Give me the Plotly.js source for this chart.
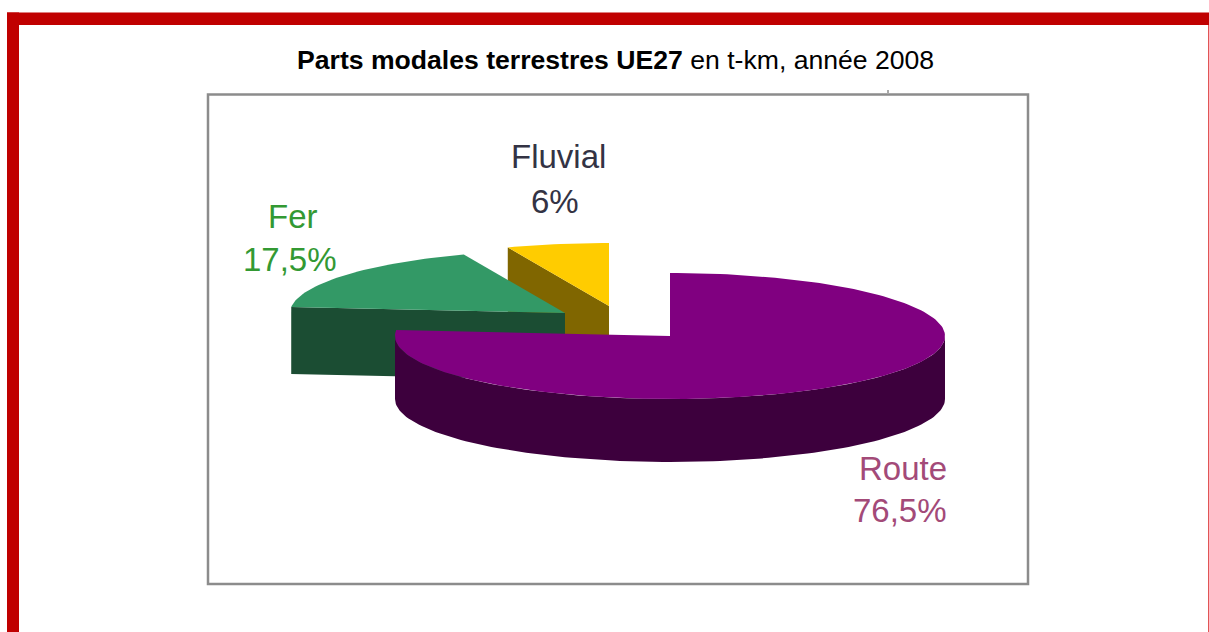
<!DOCTYPE html>
<html>
<head>
<meta charset="utf-8">
<script src="https://cdn.plot.ly/plotly-3.0.1.min.js"></script>
<style>html,body{margin:0;padding:0;background:#fff;overflow:hidden}#chart{width:1209px;height:632px}</style>
</head>
<body>
<div id="chart"></div>
<script>
// Data
const categories = ['Route', 'Fer', 'Fluvial'];
const shares = [76.5, 17.5, 6];

// Styles
const topColors = ['#800080', '#339966', '#ffcc00'];
const sideColors = ['#3d003d', '#1b4d33', '#806600'];
const labelColors = ['#a34a78', '#339933', '#333344'];

// Pie geometry (pixel-based axes)
const RX = 275, RY = 63;
const depths = [63, 67, 64];
const apexes = [[670, 336], [565, 313], [609, 306]];
const labelAnchors = [[903, 468, 900, 510], [293, 216, 290, 259], [558, 156, 555, 201]];

function pt(apex, deg, drop) {
  const a = deg * Math.PI / 180;
  return [apex[0] + RX * Math.sin(a), apex[1] - RY * Math.cos(a) + (drop || 0)];
}
function arc(apex, from, to, drop) {
  const out = [], n = Math.max(2, Math.ceil(Math.abs(to - from) / 1.5));
  for (let i = 0; i <= n; i++) out.push(pt(apex, from + (to - from) * i / n, drop));
  return out;
}
function poly(points, color, name) {
  return {
    type: 'scatter', mode: 'lines', fill: 'toself', fillcolor: color,
    x: points.map(p => p[0]), y: points.map(p => p[1]),
    line: {width: 0, color: color}, name: name, hoverinfo: 'name', showlegend: false
  };
}

const total = shares.reduce((a, b) => a + b, 0);
let cursor = 0;
const slices = shares.map((v, i) => {
  const s = {i: i, start: cursor, end: cursor + v / total * 360};
  cursor = s.end;
  return s;
});

const traces = [];
slices.slice().reverse().forEach(s => {
  const ap = apexes[s.i], name = categories[s.i], d = depths[s.i];
  // cut face on the slice's starting radius
  const p0 = pt(ap, s.start);
  if (s.start > 0) {
    traces.push(poly([p0, ap, [ap[0], ap[1] + d], [p0[0], p0[1] + d], p0], sideColors[s.i], name));
  }
  // outer wall on the front half of the rim
  const w0 = Math.max(s.start, 90), w1 = Math.min(s.end, 270);
  if (w1 > w0) {
    traces.push(poly(arc(ap, w0, w1).concat(arc(ap, w1, w0, d)), sideColors[s.i], name));
  }
  // top face
  traces.push(poly([ap].concat(arc(ap, s.start, s.end), [ap]), topColors[s.i], name));
});

const annotations = [];
categories.forEach((c, i) => {
  const a = labelAnchors[i];
  [[c, a[0], a[1]], [String(shares[i]).replace('.', ',') + '%', a[2], a[3]]].forEach(t => {
    annotations.push({
      xref: 'x', yref: 'y', x: t[1], y: t[2], text: t[0], showarrow: false,
      xanchor: 'center', yanchor: 'middle',
      font: {family: 'Liberation Sans, Arial, sans-serif', size: 33, color: labelColors[i]}
    });
  });
});
annotations.push({
  xref: 'x', yref: 'y', x: 615, y: 60, showarrow: false, xanchor: 'center', yanchor: 'middle',
  text: '<b>Parts modales terrestres UE27</b> en t-km, année 2008',
  font: {family: 'Liberation Sans, Arial, sans-serif', size: 26.6, color: '#000000'}
});

const layout = {
  width: 1209, height: 632,
  margin: {l: 0, r: 0, t: 0, b: 0, pad: 0},
  paper_bgcolor: '#ffffff', plot_bgcolor: '#ffffff',
  showlegend: false,
  xaxis: {range: [0, 1209], visible: false, fixedrange: true},
  yaxis: {range: [632, 0], visible: false, fixedrange: true},
  annotations: annotations,
  shapes: [
    {type: 'rect', xref: 'x', yref: 'y', x0: 7, x1: 1209, y0: 12.5, y1: 25, fillcolor: '#c00000', line: {width: 0}, layer: 'below'},
    {type: 'rect', xref: 'x', yref: 'y', x0: 7, x1: 19, y0: 12.5, y1: 632, fillcolor: '#c00000', line: {width: 0}, layer: 'below'},
    {type: 'line', xref: 'x', yref: 'y', x0: 1208.5, x1: 1208.5, y0: 25, y1: 632, line: {color: '#e05555', width: 1}, layer: 'below'},
    {type: 'rect', xref: 'x', yref: 'y', x0: 208, x1: 1028, y0: 94.5, y1: 584, fillcolor: 'rgba(0,0,0,0)', line: {color: '#8c8c8c', width: 2.5}, layer: 'below'},
    {type: 'line', xref: 'x', yref: 'y', x0: 888, x1: 888, y0: 90, y1: 93, line: {color: '#555555', width: 1}, layer: 'below'}
  ]
};

Plotly.newPlot('chart', traces, layout, {displayModeBar: false, staticPlot: true});
</script>
</body>
</html>
